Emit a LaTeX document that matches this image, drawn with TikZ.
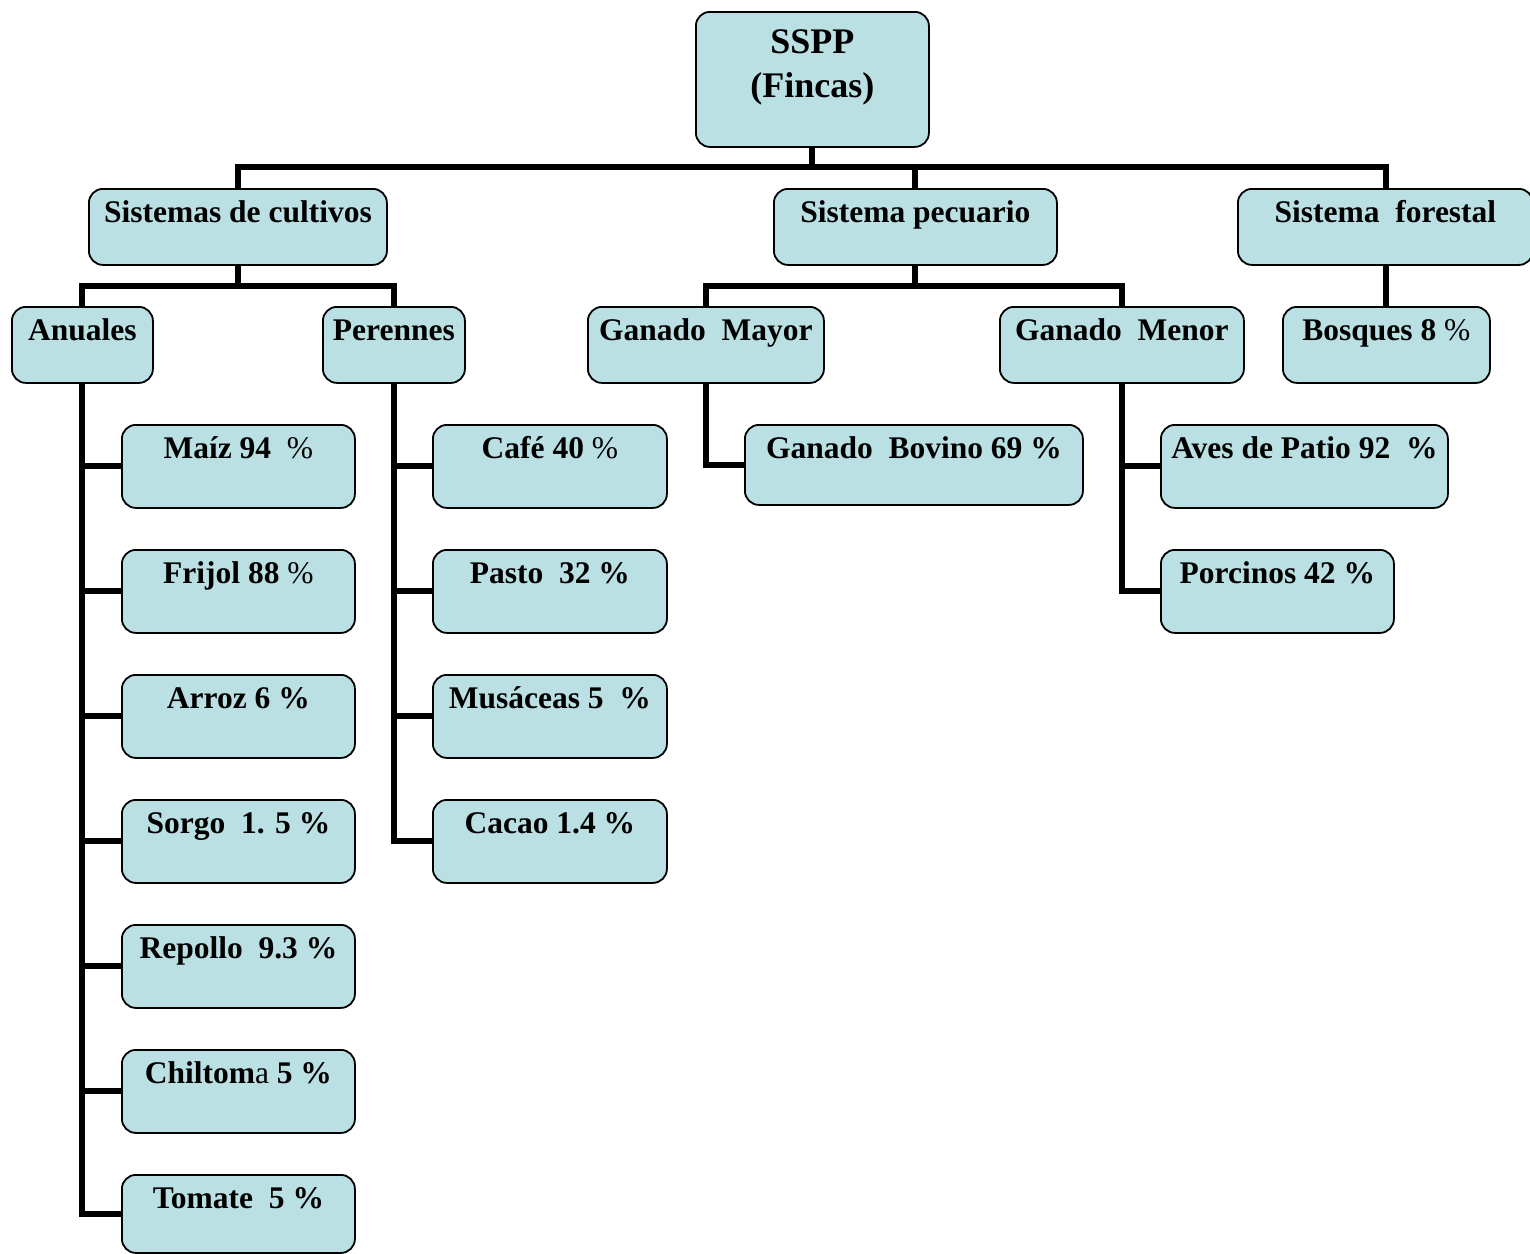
\documentclass[tikz,border=0pt]{standalone}
\usepackage{fontspec}
\setmainfont{Liberation Serif}
\definecolor{boxfill}{HTML}{BAE0E3}
\begin{document}
\begin{tikzpicture}[x=1pt,y=1pt,
  bx/.style={draw=black, line width=1.8pt, fill=boxfill, rounded corners=14pt,
    anchor=north west, inner sep=0pt, align=center,
    font=\fontsize{31.5}{40}\selectfont\bfseries, text height=34pt},
  conn/.style={draw=black, line width=6pt, line join=miter}]
\useasboundingbox (0,0) rectangle (1530,-1253);
% level 0
\node[bx, minimum width=233pt, text height=86pt, text depth=49pt,
  font=\fontsize{36}{44}\selectfont\bfseries] (sspp) at (695,-11) {SSPP\\(Fincas)};
% level 1
\node[bx, minimum width=298pt, text depth=42pt] (cult) at (88,-188) {Sistemas de cultivos};
\node[bx, minimum width=283pt, text depth=42pt] (pec) at (773,-188) {Sistema pecuario};
\node[bx, minimum width=295pt, text depth=42pt] (forest) at (1237,-188) {Sistema~~forestal};
% level 2
\node[bx, minimum width=141pt, text depth=42pt] (anu) at (11,-306) {Anuales};
\node[bx, minimum width=142pt, text depth=42pt] (per) at (322,-306) {Perennes};
\node[bx, minimum width=236pt, text depth=42pt] (gmay) at (587,-306) {Ganado~~Mayor};
\node[bx, minimum width=244pt, text depth=42pt] (gmen) at (999,-306) {Ganado~~Menor};
\node[bx, minimum width=207pt, text depth=42pt] (bos) at (1282,-306) {Bosques 8 \textmd{\%}};
% anuales
\node[bx, minimum width=233pt, text depth=49pt] (mai) at (121,-424) {Maíz 94~~\textmd{\%}};
\node[bx, minimum width=233pt, text depth=49pt] (fri) at (121,-549) {Frijol 88 \textmd{\%}};
\node[bx, minimum width=233pt, text depth=49pt] (arr) at (121,-674) {Arroz 6 \%};
\node[bx, minimum width=233pt, text depth=49pt] (sor) at (121,-799) {Sorgo~~1. 5 \%};
\node[bx, minimum width=233pt, text depth=49pt] (rep) at (121,-924) {Repollo~~9.3 \%};
\node[bx, minimum width=233pt, text depth=49pt] (chi) at (121,-1049) {Chiltom\textmd{a} 5 \%};
\node[bx, minimum width=233pt, text depth=44pt] (tom) at (121,-1174) {Tomate~~5 \%};
% perennes
\node[bx, minimum width=234pt, text depth=49pt] (caf) at (432,-424) {Café 40 \textmd{\%}};
\node[bx, minimum width=234pt, text depth=49pt] (pas) at (432,-549) {Pasto~~32 \%};
\node[bx, minimum width=234pt, text depth=49pt] (mus) at (432,-674) {Musáceas 5~~\%};
\node[bx, minimum width=234pt, text depth=49pt] (cac) at (432,-799) {Cacao 1.4 \%};
% pecuario
\node[bx, minimum width=338pt, text depth=46pt] (bov) at (744,-424) {Ganado~~Bovino 69 \%};
\node[bx, minimum width=287pt, text depth=49pt] (ave) at (1160,-424) {Aves de Patio 92~~\%};
\node[bx, minimum width=233pt, text depth=49pt] (por) at (1160,-549) {Porcinos 42 \%};
% connectors level 0-1
\draw[conn] (sspp.south) -- ++(0,-21);
\draw[conn] (cult.north) -- ++(0,21) -| (bos.north |- forest.north);
\draw[conn] (pec.north) -- ++(0,21);
% level 1-2
\draw[conn] (cult.south) -- ++(0,-22);
\draw[conn] (anu.north) -- ++(0,20) -| (per.north);
\draw[conn] (pec.south) -- ++(0,-22);
\draw[conn] (gmay.north) -- ++(0,20) -| (gmen.north);
\draw[conn] (bos.north |- forest.south) -- (bos.north);
% anuales
\draw[conn] (anu.south) |- (tom.west);
\foreach \n in {mai,fri,arr,sor,rep,chi}{\draw[conn] (anu.south |- \n.west) -- (\n.west);}
% perennes
\draw[conn] (per.south) |- (cac.west);
\foreach \n in {caf,pas,mus}{\draw[conn] (per.south |- \n.west) -- (\n.west);}
% ganado
\draw[conn] (gmay.south) |- (bov.west);
\draw[conn] (gmen.south) |- (por.west);
\draw[conn] (gmen.south |- ave.west) -- (ave.west);
\end{tikzpicture}
\end{document}
